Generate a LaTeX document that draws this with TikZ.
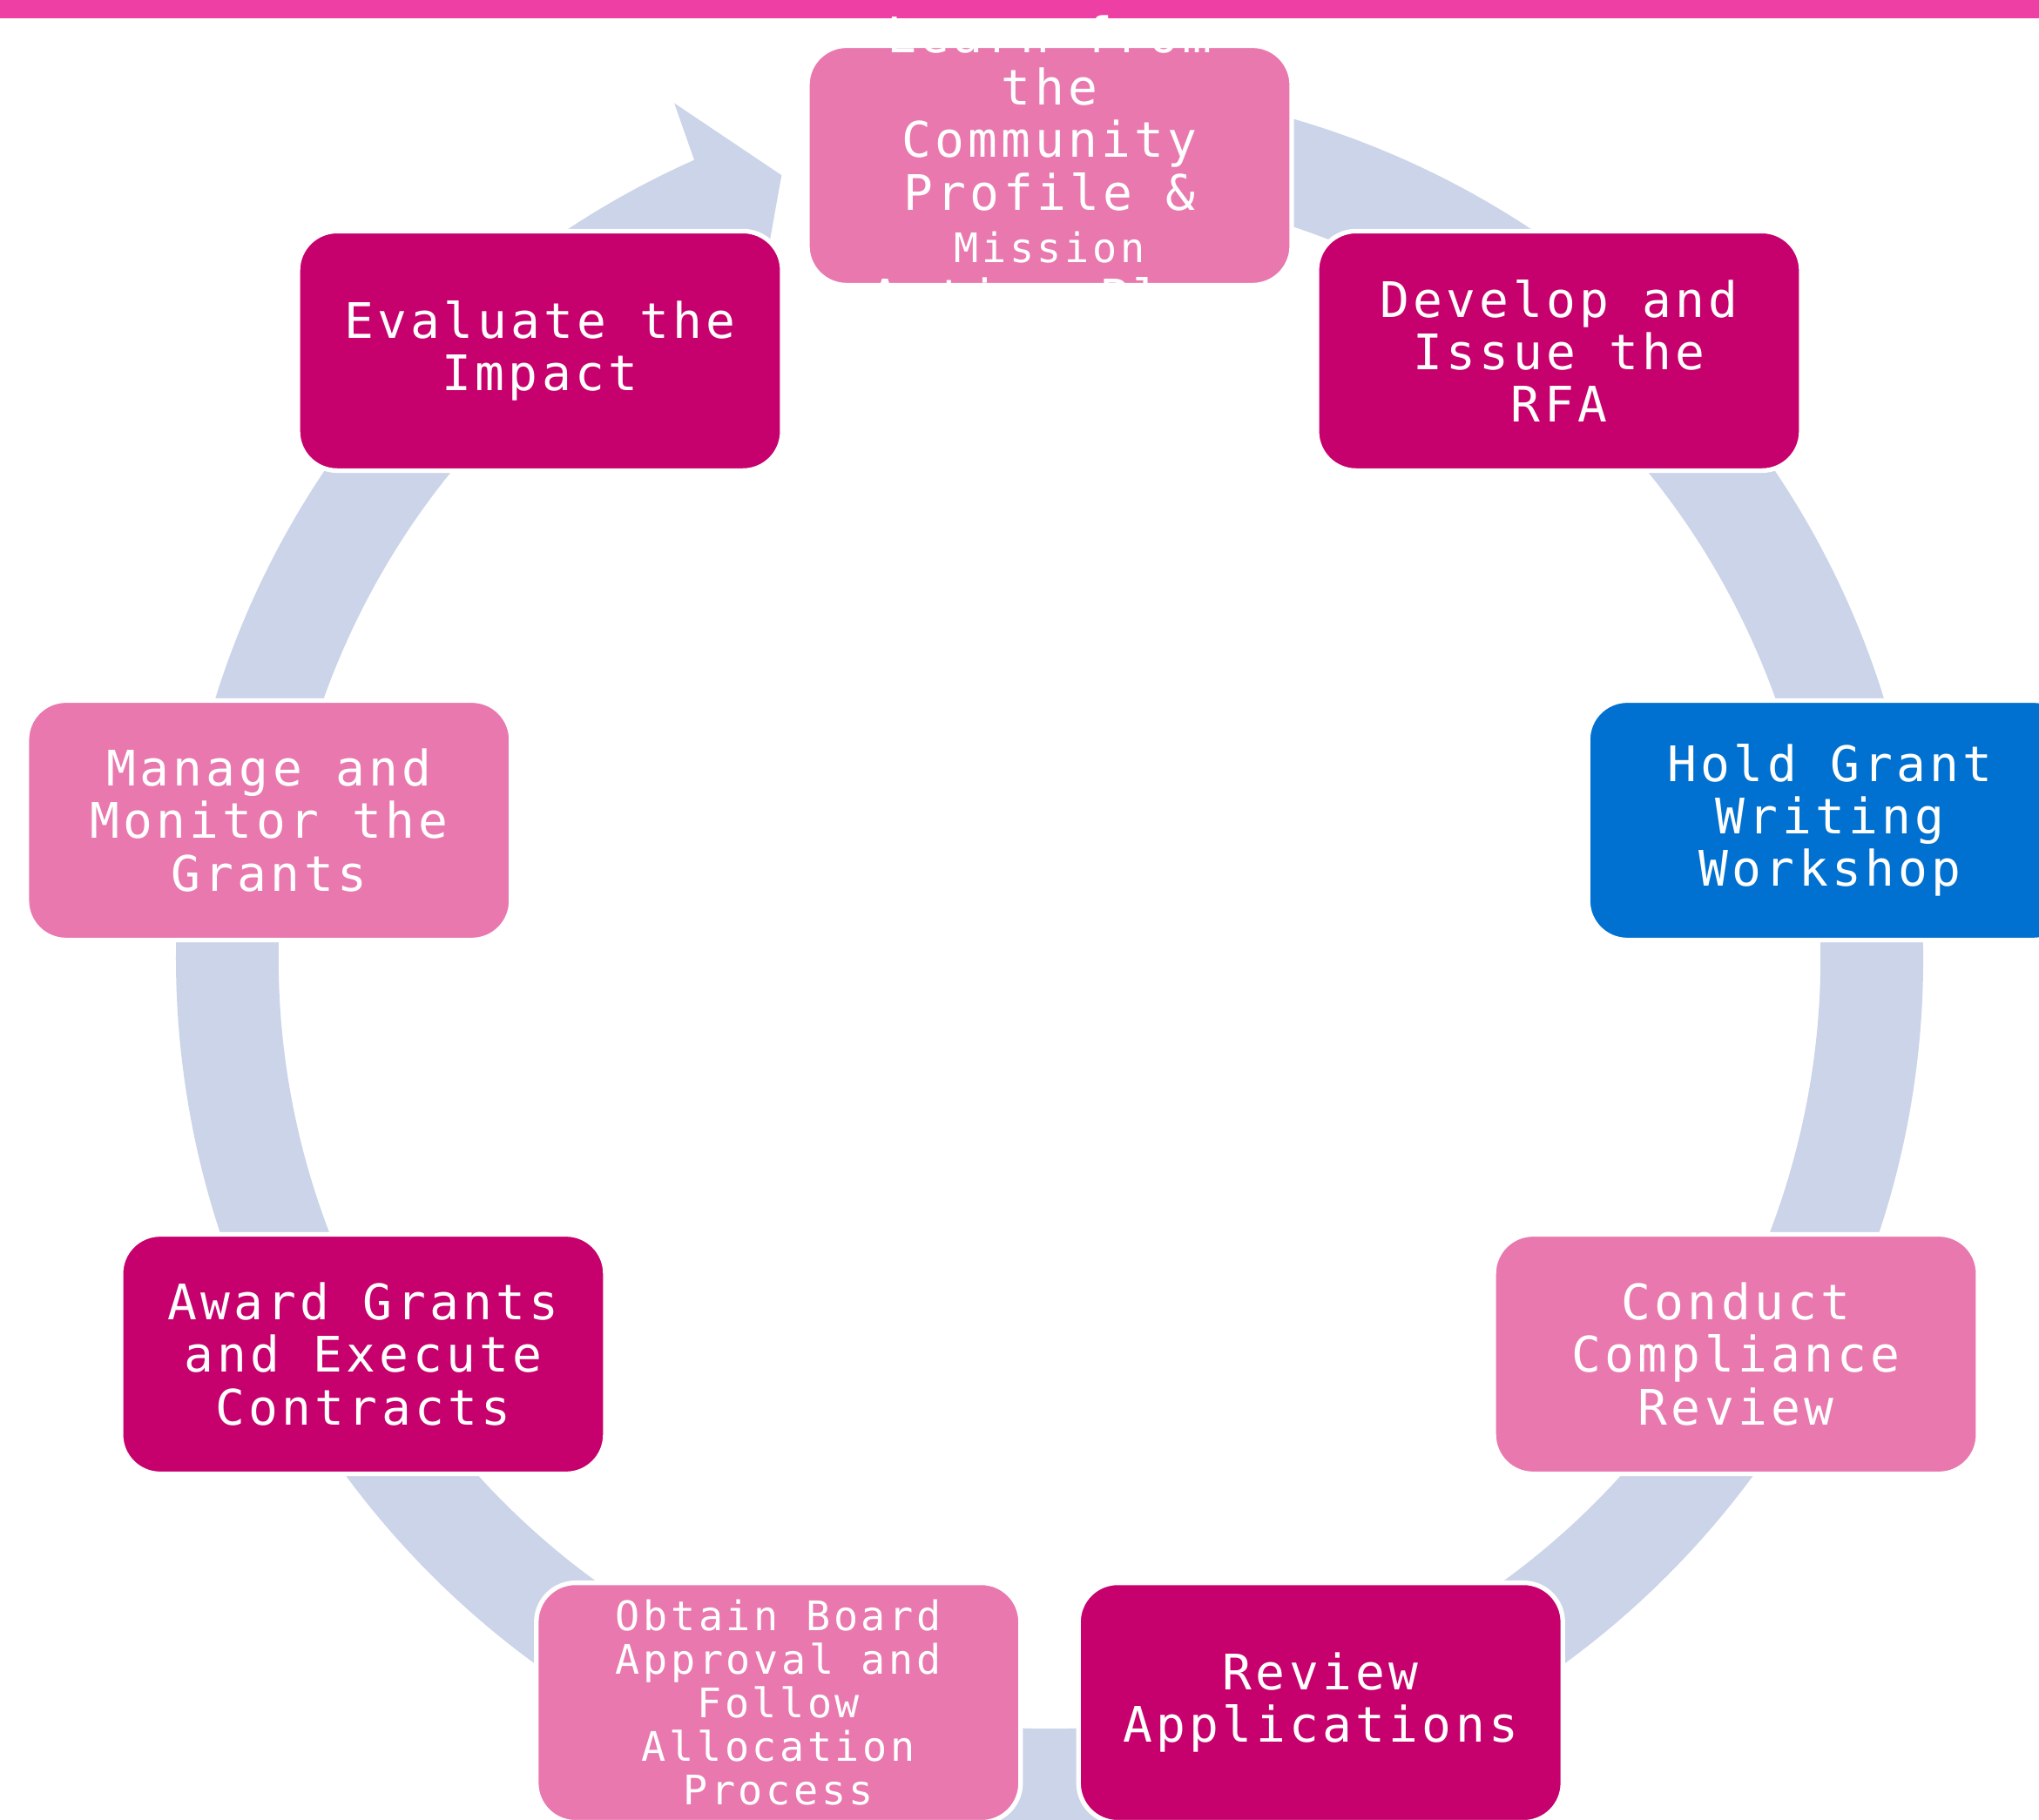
\documentclass[tikz,border=0pt]{standalone}
\usepackage{fontspec}
\newfontfamily\ocrfont[LetterSpace=7.7]{DejaVu Sans Mono}
\newcommand\mainfnt{\ocrfont\fontsize{16}{17.1}\selectfont}
\newcommand\smallfnt{\ocrfont\fontsize{13.3}{14.2}\selectfont}
\definecolor{barc}{HTML}{EE40A4}
\definecolor{ringc}{HTML}{CBD4E8}
\definecolor{darkm}{HTML}{C6006C}
\definecolor{lightm}{HTML}{E878AE}
\definecolor{bluem}{HTML}{0071D0}
\tikzset{
  box/.style={rectangle, rounded corners=0.45cm, minimum width=5.56cm,
    minimum height=2.75cm, draw=white, line width=1.5pt, text=white,
    align=center, inner sep=2pt, font=\mainfnt},
  txt/.style={text=white, align=center, inner sep=0pt, font=\mainfnt}
}
\begin{document}
\begin{tikzpicture}
\useasboundingbox (0,0) rectangle (23.41,20.89);
\fill[white] (0,0) rectangle (23.41,20.89);
\fill[barc] (0,20.68) rectangle (23.41,20.89);
\begin{scope}[shift={(12.05,9.89)}]
  \fill[ringc] (95:10.03) arc[start angle=95,end angle=-246,radius=10.03]
    -- (113.7:10.72) -- (108.9:9.5) -- (113.7:8.28) -- (114:8.85)
    arc[start angle=-246,end angle=95,radius=8.85] -- cycle;
  \node[box, fill=lightm] (n1) at (90:9.1) {};
  \node[box, fill=darkm]  (n2) at (50:9.1) {Develop and\\Issue the\\RFA};
  \node[box, fill=bluem]  (n3) at (10:9.1) {Hold Grant\\Writing\\Workshop};
  \node[box, fill=lightm] (n4) at (-30:9.1) {Conduct\\Compliance\\Review};
  \node[box, fill=darkm]  (n5) at (-70:9.1) {Review\\Applications};
  \node[box, fill=lightm, font=\smallfnt] (n6) at (-110:9.1) {Obtain Board\\Approval and\\Follow\\Allocation\\Process};
  \node[box, fill=darkm]  (n7) at (-150:9.1) {Award Grants\\and Execute\\Contracts};
  \node[box, fill=lightm] (n8) at (170:9.1) {Manage and\\Monitor the\\Grants};
  \node[box, fill=darkm]  (n9) at (130:9.1) {Evaluate the\\Impact};
  \node[txt] (t1) at (n1) {Learn from\\the\\Community\\Profile \&\\{\smallfnt Mission}\\Action Plan};
\end{scope}
\end{tikzpicture}
\end{document}
